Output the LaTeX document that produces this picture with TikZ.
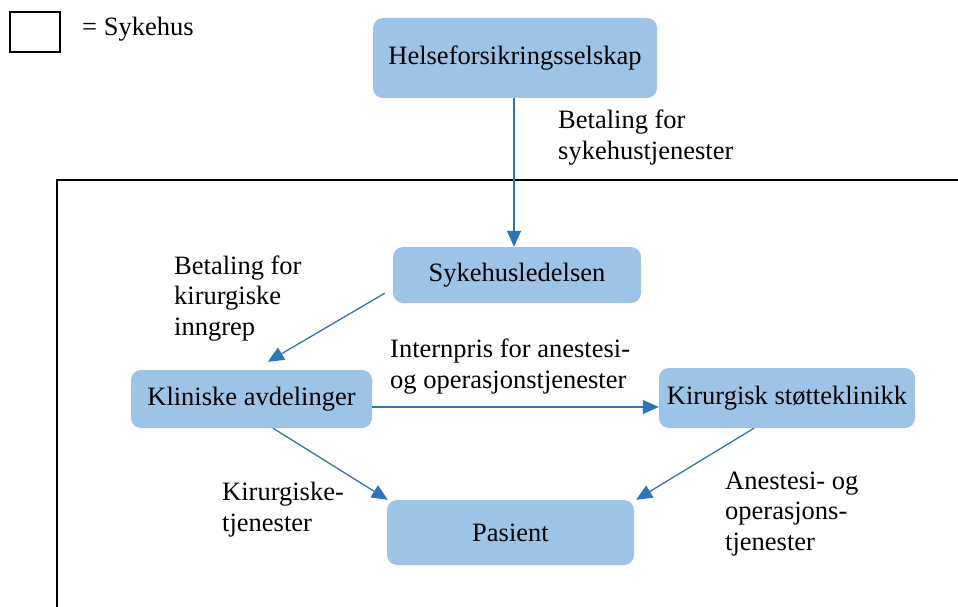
\documentclass[tikz,border=0pt]{standalone}
\usepackage{fontspec}
\setmainfont{Liberation Serif}
\usetikzlibrary{arrows.meta,calc}
\definecolor{boxfill}{HTML}{9DC3E6}
\definecolor{flow}{HTML}{2E75B6}
\begin{document}
\begin{tikzpicture}[x=1pt,y=-1pt,
  every node/.style={font=\fontsize{26.5}{30.5}\selectfont},
  unit/.style={rounded corners=10pt, fill=boxfill, draw=none, inner sep=0pt, align=center},
  flowarrow/.style={draw=flow, line width=1.3pt, -{Triangle[length=16pt,width=14pt]}},
  note/.style={anchor=base west, align=left, inner sep=0pt}
]
\useasboundingbox (0,0) rectangle (958,607);
% legend
\node[draw, line width=2pt, minimum width=50pt, minimum height=40pt, inner sep=0pt] (legend) at (35,32) {};
\node[note] (legendtext) at (82,36) {= Sykehus};
% hospital frame, running past the right and bottom edges
\begin{scope}
\clip (0,0) rectangle (958,607);
\draw[line width=2.2pt] (57,640) -- (57,180) -- (1000,180);
\end{scope}
% units
\node[unit, minimum width=284pt, minimum height=80pt] (hf) at (515,58) {Helseforsikringsselskap};
\node[unit, minimum width=248pt, minimum height=56pt] (sl) at (517,275) {Sykehusledelsen};
\node[unit, minimum width=241pt, minimum height=58pt] (ka) at (251.5,399) {Kliniske avdelinger};
\node[unit, minimum width=256pt, minimum height=60pt] (ks) at (787,398) {Kirurgisk støtteklinikk};
\node[unit, minimum width=247pt, minimum height=65pt] (pa) at (510.5,532.5) {Pasient};
% flows
\draw[flowarrow] ([xshift=-1pt]hf.south) -- ([xshift=-1pt]hf.south |- sl.north);
\draw[flowarrow] ($(sl.south west)+(-8,-10)$) -- ($(ka.north west)+(137,-8)$);
\draw[flowarrow] ($(ka.east)+(0,8)$) coordinate (a1) -- (a1 -| ks.west);
\draw[flowarrow] ($(ka.south)+(21.5,0)$) -- ($(pa.north west)+(1,0)$);
\draw[flowarrow] ($(ks.south)+(-33,0)$) -- ($(pa.north east)+(2,0)$);
% labels (anchored at the baseline of their last line)
\node[note] (l1) at (558,159) {Betaling for\\sykehustjenester};
\node[note] (l2) at (174,335) {Betaling for\\kirurgiske\\inngrep};
\node[note] (l3) at (390,388) {Internpris for anestesi-\\og operasjonstjenester};
\node[note] (l4) at (222,531) {Kirurgiske-\\tjenester};
\node[note] (l5) at (725,550) {Anestesi- og\\operasjons-\\tjenester};
\end{tikzpicture}
\end{document}
